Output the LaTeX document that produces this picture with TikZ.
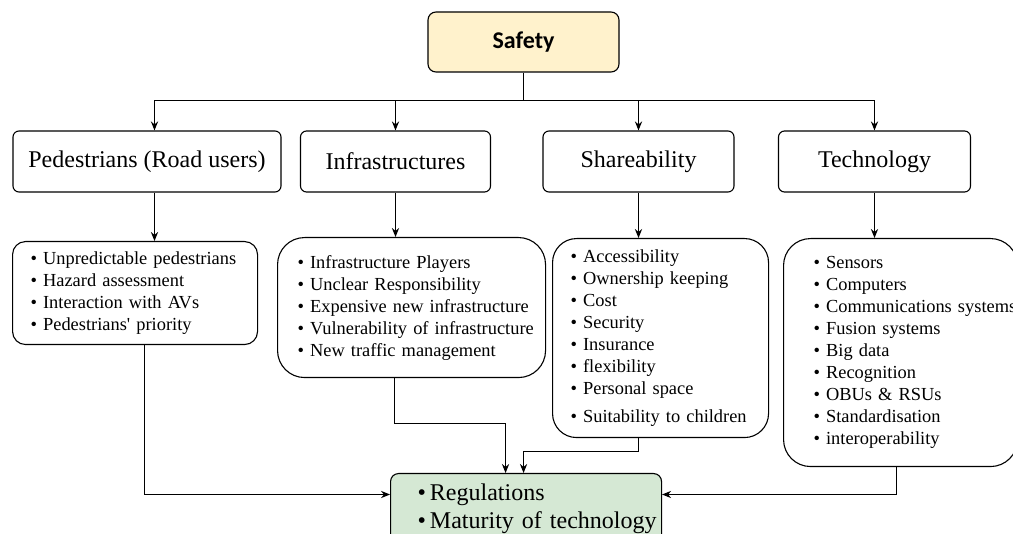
\documentclass[tikz,border=0pt]{standalone}
\usepackage{fontspec}
\setmainfont{Liberation Serif}
\newfontfamily\headfont{Carlito}
\usetikzlibrary{arrows.meta, positioning, calc}

\definecolor{safetyyellow}{HTML}{FFF2CC}
\definecolor{regreen}{HTML}{D5E8D4}
\hyphenpenalty=10000
\exhyphenpenalty=10000

\begin{document}
\begin{tikzpicture}[
    x=0.5pt, y=-0.5pt,
    line width=0.55pt,
    top/.style={rectangle, draw, rounded corners=4pt, fill=safetyyellow, minimum width=95.5pt, minimum height=30pt, font=\headfont\bfseries\fontsize{12}{14}\selectfont},
    cat/.style={rectangle, draw, rounded corners=3pt, minimum height=30.5pt, font=\fontsize{12}{14}\selectfont},
    detail/.style={rectangle, draw, anchor=north west, align=left, font=\fontsize{9.2}{11}\selectfont},
    arrow/.style={-{Stealth[length=4.5pt, width=3.6pt]}}
]
    \useasboundingbox (0,0) rectangle (1013,534);

    \node[top] (safety) at (523.5,42) {Safety};

    \node[cat, minimum width=134pt] (ped) at (147,161.5) {Pedestrians (Road users)};
    \node[cat, minimum width=95pt] (infra) at (395.5,161.5) {Infrastructures};
    \node[cat, minimum width=95.5pt] (share) at (638.5,161.5) {Shareability};
    \node[cat, minimum width=96pt] (tech) at (874.5,161.5) {Technology};

    \node[detail, rounded corners=6.5pt, inner xsep=9pt, text width=104.5pt, minimum height=51.5pt] (peddet) at (12,241)
        {•~Unpredictable~pedestrians\\•~Hazard~assessment\\•~Interaction~with~AVs\\•~Pedestrians\textquotesingle~priority};
    \node[detail, rounded corners=13.5pt, inner xsep=10pt, text width=114pt, minimum height=70pt] (infradet) at (277,237)
        {•~Infrastructure~Players\\•~Unclear~Responsibility\\•~Expensive~new~infrastructure\\•~Vulnerability~of~infrastructure\\•~New~traffic~management};
    \node[detail, rounded corners=12pt, inner xsep=9pt, text width=90pt, minimum height=99.5pt] (sharedet) at (552,238)
        {•~Accessibility\\•~Ownership~keeping\\•~Cost\\•~Security\\•~Insurance\\•~flexibility\\•~Personal~space\\[3pt]•~Suitability~to~children};
    \node[detail, rounded corners=13.5pt, inner xsep=15pt, text width=87pt, minimum height=114pt] (techdet) at (783,238)
        {•~Sensors\\•~Computers\\•~Communications~systems\\•~Fusion~systems\\•~Big~data\\•~Recognition\\•~OBUs~\&~RSUs\\•~Standardisation\\•~interoperability};

    \node[detail, fill=regreen, rounded corners=4pt, inner xsep=13.5pt, inner ysep=5.3pt, text width=108.5pt, font=\fontsize{12}{14}\selectfont] (reg) at (390,473)
        {•\,Regulations\\•\,Maturity~of~technology};

    \coordinate (bus) at (523.5,100.5);
    \coordinate (pedtop) at ([xshift=3.75pt]ped.north);
    \coordinate (pedbot) at ([xshift=3.75pt]ped.south);

    \draw (safety.south) -- (bus);
    \draw (pedtop |- bus) -- (tech.north |- bus);
    \draw[arrow] (pedtop |- bus) -- (pedtop);
    \foreach \n in {infra, share, tech}
        \draw[arrow] (\n.north |- bus) -- (\n.north);

    \draw[arrow] (pedbot) -- (pedbot |- peddet.north);
    \foreach \n/\d in {infra/infradet, share/sharedet, tech/techdet}
        \draw[arrow] (\n.south) -- (\n.south |- \d.north);

    \draw[arrow] ([xshift=4.5pt]peddet.south) |- ([yshift=-10.75pt]reg.north west);
    \draw[arrow] ([xshift=-2.25pt]techdet.south) |- ([yshift=-10.75pt]reg.north east);
    \draw[arrow] ([xshift=-8.75pt]infradet.south) -- ++(0,-22.5pt) -| ([xshift=-10.25pt]reg.north);
    \draw[arrow] ([xshift=-11.25pt]sharedet.south) -- ++(0,-6.5pt) -| ([xshift=-1.25pt]reg.north);
\end{tikzpicture}
\end{document}
